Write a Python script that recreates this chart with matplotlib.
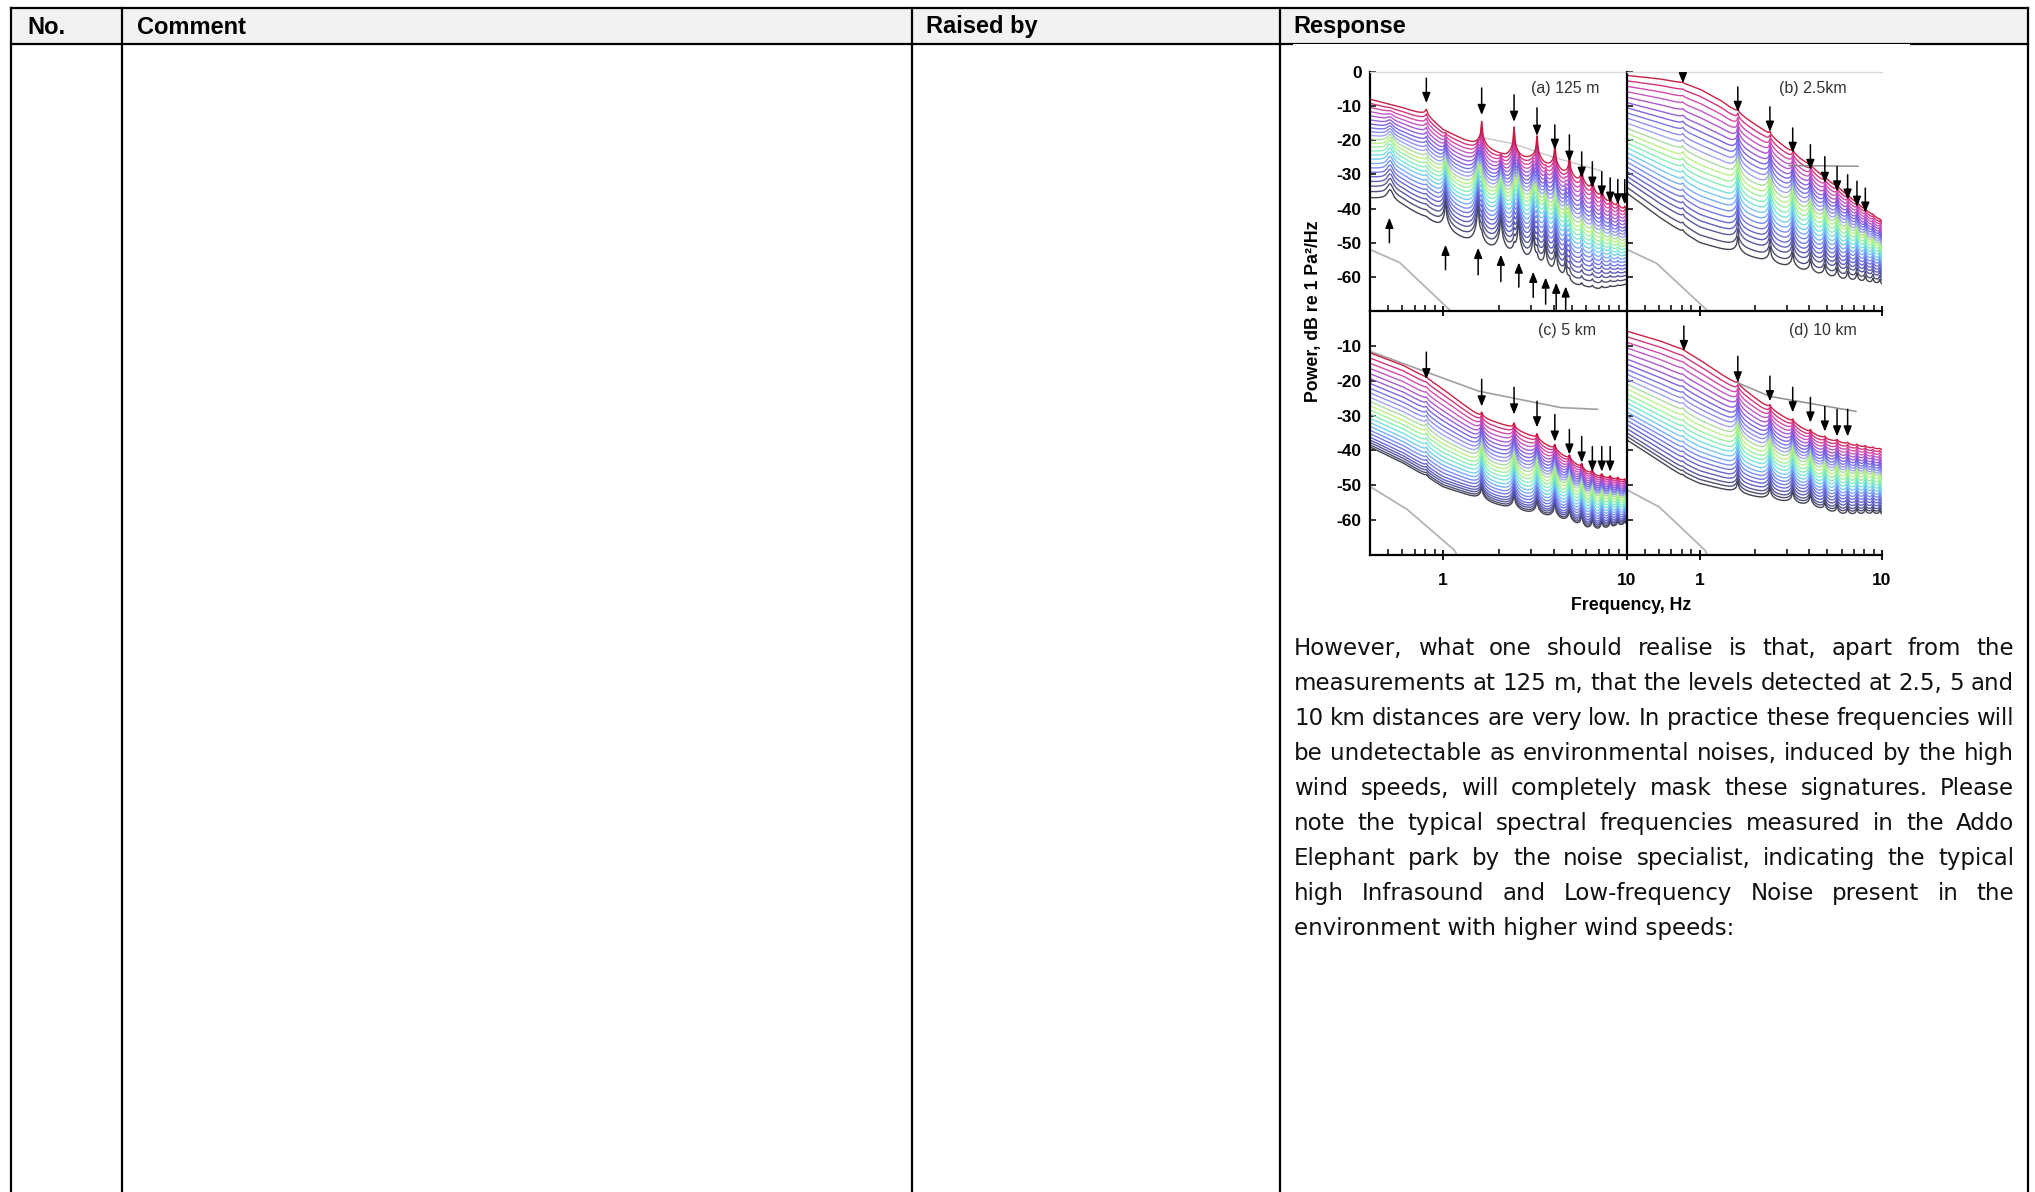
import numpy as np
import matplotlib
matplotlib.use("Agg")
import matplotlib.pyplot as plt
from matplotlib.lines import Line2D
from matplotlib.patches import Rectangle
from matplotlib.ticker import FixedLocator, NullFormatter
from matplotlib import font_manager

plt.rcParams['axes.unicode_minus'] = False

# ---------------- data ----------------
header_labels = ["No.", "Comment", "Raised by", "Response"]

body_lines = [
    "However, what one should realise is that, apart from the",
    "measurements at 125 m, that the levels detected at 2.5, 5 and",
    "10 km distances are very low. In practice these frequencies will",
    "be undetectable as environmental noises, induced by the high",
    "wind speeds, will completely mask these signatures. Please",
    "note the typical spectral frequencies measured in the Addo",
    "Elephant park by the noise specialist, indicating the typical",
    "high Infrasound and Low-frequency Noise present in the",
    "environment with higher wind speeds:",
]

panel_titles = ["(a) 125 m", "(b) 2.5km", "(c) 5 km", "(d) 10 km"]
y_ticks_top = [0, -10, -20, -30, -40, -50, -60]
y_ticks_bottom = [-10, -20, -30, -40, -50, -60]
y_ticks_all = [0, -10, -20, -30, -40, -50, -60, -70]
x_major = [1, 10]
x_major_labels = ["1", "10"]
x_minor = [0.4, 0.5, 0.6, 0.7, 0.8, 0.9, 2, 3, 4, 5, 6, 7, 8, 9]

# envelope anchor frequencies (Hz)
env_f = [0.4, 0.6, 0.8, 1.0, 1.3, 1.6, 2.2, 3.0, 4.0, 5.0, 6.0, 7.0, 8.0, 10.0]

top_a = [-8, -10.5, -12.8, -17, -20, -22, -25, -26, -29, -32, -35, -38, -40, -41.5]
bot_a = [-38, -40.5, -43.3, -46.5, -49.5, -51.5, -54, -57, -61, -63, -63.5, -64, -63.5, -62.5]
top_b = [-1, -2, -3.2, -5, -8.3, -11.8, -16.8, -22.5, -27.5, -31.8, -35, -38, -40.5, -44]
bot_b = [-35.5, -42.5, -47, -50, -51.8, -53, -55.3, -57.3, -59.2, -60.6, -61.8, -62.3, -62.7, -63]
top_c = [-12, -15.5, -19, -22.5, -27, -30.5, -33, -36, -40, -43.5, -46.5, -48, -48.5, -49]
bot_c = [-39, -43.5, -47.5, -50.5, -52.5, -54.2, -56.5, -58.3, -59.8, -61.5, -63.5, -64, -63.5, -62]
top_d = [-5.8, -8.5, -11, -14, -18, -21, -26.5, -31, -35, -37, -38, -38.8, -39.3, -40]
bot_d = [-37, -43, -47.3, -49.5, -51, -52.2, -53.8, -55, -56.2, -58, -59, -59.2, -59.2, -59]

# level of each curve at 0.4 Hz (top to bottom)
start_a = [-8, -9.3, -10.6, -11.9, -13.2, -14.5, -15.8, -17, -18.2, -19.4, -20.6, -21.8,
           -23, -24.2, -25.4, -26.6, -27.9, -29.2, -30.5, -31.8, -33.2, -34.6, -36.2, -38]
start_b = [-1, -2.6, -4.2, -5.8, -7.4, -9, -10.5, -12, -13.5, -15, -16.5, -18,
           -19.4, -20.8, -22.2, -23.6, -25, -26.4, -27.8, -29.2, -30.6, -32, -33.8, -35.5]
start_c = [-12, -13.5, -15, -16.5, -18, -19.4, -20.8, -22.2, -23.5, -24.8, -26, -27.2,
           -28.4, -29.6, -30.8, -32, -33.1, -34.2, -35.2, -36.2, -37, -37.7, -38.4, -39]
start_d = [-5.8, -7.4, -9, -10.6, -12.2, -13.8, -15.3, -16.8, -18.2, -19.6, -21, -22.4,
           -23.8, -25.1, -26.4, -27.7, -29, -30.2, -31.4, -32.6, -33.8, -35, -36, -37]

curve_colors = ['#c8143c', '#d02a78', '#d040a8', '#c050c0', '#a850cc', '#9058d8',
                '#7a5ae0', '#7070e8', '#8a88ee', '#9aa0f0', '#a8d8a0', '#b8f080',
                '#98f098', '#80ecb8', '#70e0d8', '#70c8f0', '#70a8f8', '#7088f0',
                '#6a70e0', '#6060d0', '#5858b8', '#505098', '#484870', '#3a3a48']

# tonal peaks (harmonics), their heights in dB and widths in decades
harm_A = [0.81, 1.62, 2.43, 3.24, 4.05, 4.86, 5.67, 6.48, 7.29, 8.10, 8.91, 9.72]
harm_B = [0.515, 1.03, 1.545, 2.06, 2.575, 3.09, 3.605, 4.12, 4.635]
width_A = [0.006, 0.004, 0.004, 0.004, 0.004, 0.004, 0.004, 0.004, 0.004, 0.004, 0.004, 0.004]
width_B = [0.02, 0.004, 0.004, 0.004, 0.004, 0.004, 0.004, 0.004, 0.004]
ampA_a = [2, 7.5, 9, 7.7, 7, 6, 5.3, 4.5, 4, 3, 2, 1.5]
ampA_b = [1.5, 8, 8, 8, 7, 6, 6, 5, 5, 4, 3, 3]
ampA_c = [1.5, 8, 9, 9, 9, 8, 8, 7, 6, 5, 4, 3]
ampA_d = [1, 7, 7, 7, 7, 5, 5, 4, 4, 4, 3, 3]
ampB_a = [5, 9, 13, 12, 12, 9, 8, 7, 5]
# peak strength over curve rank (top, middle, bottom)
profA_a = [1.0, 0.6, 0.2]
profB_a = [0.0, 0.9, 1.0]
profA_b = [0.15, 1.0, 0.6]
profA_c = [0.2, 1.0, 0.5]
profA_d = [0.15, 1.0, 0.5]

# grey reference lines
grey_a_low_f, grey_a_low = [0.4, 0.58, 1.1, 1.2], [-52, -55.8, -70, -73]
grey_a_up_f, grey_a_up = [1.56, 2.4, 4.0, 7.3], [-19, -21, -25, -29]
grey_b_low_f, grey_b_low = [0.4, 0.58, 1.11, 1.2], [-52, -56, -70, -73]
grey_b_up_f, grey_b_up = [3.1, 7.4], [-27.4, -27.6]
grey_c_low_f, grey_c_low = [0.41, 0.64, 1.15, 1.25], [-50.7, -57, -68.6, -72]
grey_c_up_f, grey_c_up = [0.41, 1.56, 4.35, 6.9], [-11.8, -23, -27.7, -28.2]
grey_d_low_f, grey_d_low = [0.4, 0.6, 1.07, 1.15], [-51.3, -56.2, -68.6, -72]
grey_d_up_f, grey_d_up = [1.6, 2.43, 7.2], [-20.5, -24.5, -28.8]

# arrows: frequency, start level, end (tip) level
arr_a_f = [0.81, 1.62, 2.43, 3.24, 4.05, 4.86, 5.67, 6.48, 7.29, 8.10, 8.91, 9.72]
arr_a_s = [-1.8, -4.7, -6.7, -10.5, -15.5, -18.4, -23.4, -26.3, -29.2, -31, -31.5, -31.5]
arr_a_e = [-9.1, -12.6, -14.6, -18.7, -22.8, -26.3, -31, -33.9, -36.5, -38.3, -38.8, -38.8]
arru_a_f = [0.51, 1.03, 1.55, 2.06, 2.58, 3.09, 3.61, 4.12, 4.64]
arru_a_s = [-50, -57.9, -59.4, -61.4, -63, -66, -68, -69.6, -69.6]
arru_a_e = [-42.7, -50.6, -51.5, -53.5, -55.8, -58.5, -60.2, -61.7, -62.8]
arr_b_f = [0.81, 1.62, 2.43, 3.24, 4.05, 4.86, 5.67, 6.48, 7.29, 8.10]
arr_b_s = [-1.5, -4.4, -10.2, -16.4, -21.3, -24.8, -27.7, -30.1, -32, -34]
arr_b_e = [-3.3, -11.7, -17.5, -23.7, -28.7, -32.5, -35, -37.4, -39.5, -41.2]
arr_c_f = [0.81, 1.62, 2.43, 3.24, 4.05, 4.86, 5.67, 6.48, 7.29, 8.10]
arr_c_s = [-11.8, -19.6, -21.9, -25.9, -29.7, -34, -36, -38.9, -38.9, -38.9]
arr_c_e = [-19.6, -27.4, -29.7, -33.4, -37.5, -41.2, -43.5, -46.1, -46.1, -46.1]
arr_d_f = [0.82, 1.62, 2.43, 3.24, 4.05, 4.86, 5.67, 6.48]
arr_d_s = [-4.3, -13, -18.7, -21.9, -24.8, -27.4, -28.2, -28.2]
arr_d_e = [-11.5, -20.5, -25.9, -29.1, -32, -34.6, -36, -36]

# ---------------- figure ----------------
W, H = 2035, 1192
fig = plt.figure(figsize=(W / 100, H / 100), dpi=100)
fig.patch.set_facecolor('white')


def fx(x):
    return x / W


def fy(y):
    return 1 - y / H


def pick(*names):
    avail = {f.name for f in font_manager.fontManager.ttflist}
    for n in names:
        if n in avail:
            return n
    return 'DejaVu Sans'


head_font = pick('Liberation Sans', 'Arimo', 'DejaVu Sans')
head_size = 17
chart_font = pick('Liberation Sans', 'Arimo', 'DejaVu Sans')
body_font = 'DejaVu Sans'

# table
fig.add_artist(Rectangle((fx(11), fy(43.5)), fx(2028) - fx(11), fy(8) - fy(43.5),
                         transform=fig.transFigure, facecolor='#f2f2f2',
                         edgecolor='none', zorder=0.5))
LW = 1.6


def hline(y, x0, x1):
    fig.add_artist(Line2D([fx(x0), fx(x1)], [fy(y), fy(y)], transform=fig.transFigure,
                          color='black', lw=LW, solid_capstyle='projecting', zorder=2))


def vline(x, y0, y1):
    fig.add_artist(Line2D([fx(x), fx(x)], [fy(y0), fy(y1)], transform=fig.transFigure,
                          color='black', lw=LW, solid_capstyle='projecting', zorder=2))


hline(8, 11, 2028)
hline(43.5, 11, 2028)
for xv in [11, 122, 912, 1280, 2028]:
    vline(xv, 8, 1200)

header_x = [27, 137, 926, 1293]
for lab, xh in zip(header_labels, header_x):
    fig.text(fx(xh), fy(33.5), lab, ha='left', va='baseline', family=head_font,
             weight='bold', size=head_size, color='black', zorder=4)

# image area of embedded chart (covers part of the header rule)
fig.add_artist(Rectangle((fx(1293), fy(620)), fx(1910) - fx(1293), fy(43.5) - fy(620),
                         transform=fig.transFigure, facecolor='white',
                         edgecolor='none', zorder=2.5))


def add_ax(x0, y0, x1, y1):
    ax = fig.add_axes([fx(x0), fy(y1), fx(x1) - fx(x0), fy(y0) - fy(y1)])
    ax.set_zorder(3)
    ax.patch.set_alpha(0)
    return ax


ax_a = add_ax(1370, 72, 1627, 311)
ax_b = add_ax(1627, 72, 1882, 311)
ax_c = add_ax(1370, 311, 1627, 555)
ax_d = add_ax(1627, 311, 1882, 555)

fgrid = np.logspace(np.log10(0.4), 1.0, 3000)
lg = np.log10(fgrid)
lenv = np.log10(env_f)


def peaks(f0s, amps, widths):
    out = np.zeros_like(lg)
    for f0, a, w in zip(f0s, amps, widths):
        d = lg - np.log10(f0)
        out += a * (0.6 / (1 + (d / w) ** 2) + 0.4 / (1 + (d / (6 * w)) ** 2))
    return out


def draw_panel(ax, starts, top, bot, ampA, profA, ampB=None, profB=None):
    topc = np.interp(lg, lenv, top)
    botc = np.interp(lg, lenv, bot)
    pA = peaks(harm_A, ampA, width_A)
    pB = peaks(harm_B, ampB, width_B) if ampB is not None else 0
    n = len(starts)
    for i in range(n - 1, -1, -1):
        t = (starts[0] - starts[i]) / (starts[0] - starts[-1])
        y = topc * (1 - t) + botc * t
        y = y + np.interp(t, [0, 0.5, 1], profA) * pA
        if ampB is not None:
            y = y + np.interp(t, [0, 0.5, 1], profB) * pB
        ax.plot(fgrid, y, color=curve_colors[i], lw=1.0, alpha=0.95, zorder=2)


draw_panel(ax_a, start_a, top_a, bot_a, ampA_a, profA_a, ampB_a, profB_a)
draw_panel(ax_b, start_b, top_b, bot_b, ampA_b, profA_b)
draw_panel(ax_c, start_c, top_c, bot_c, ampA_c, profA_c)
draw_panel(ax_d, start_d, top_d, bot_d, ampA_d, profA_d)

grey = '#b4b4b4'
ax_a.plot(grey_a_low_f, grey_a_low, color=grey, lw=1.3, zorder=1)
ax_a.plot(grey_a_up_f, grey_a_up, color='#c8c8c8', lw=1.0, zorder=1.5)
ax_b.plot(grey_b_low_f, grey_b_low, color=grey, lw=1.3, zorder=1)
ax_b.plot(grey_b_up_f, grey_b_up, color='#888888', lw=1.0, zorder=3)
ax_c.plot(grey_c_low_f, grey_c_low, color=grey, lw=1.3, zorder=1)
ax_c.plot(grey_c_up_f, grey_c_up, color='#a0a0a0', lw=1.2, zorder=1)
ax_d.plot(grey_d_low_f, grey_d_low, color=grey, lw=1.3, zorder=1)
ax_d.plot(grey_d_up_f, grey_d_up, color='#909090', lw=1.1, zorder=3)


def arrows(ax, fs, ss, es):
    for f, s, e in zip(fs, ss, es):
        ax.annotate('', xy=(f, e), xytext=(f, s),
                    arrowprops=dict(arrowstyle='-|>,head_length=0.55,head_width=0.22',
                                    mutation_scale=11, lw=1.1, color='black',
                                    shrinkA=0, shrinkB=0),
                    annotation_clip=False, zorder=5)


arrows(ax_a, arr_a_f, arr_a_s, arr_a_e)
arrows(ax_a, arru_a_f, arru_a_s, arru_a_e)
arrows(ax_b, arr_b_f, arr_b_s, arr_b_e)
arrows(ax_c, arr_c_f, arr_c_s, arr_c_e)
arrows(ax_d, arr_d_f, arr_d_s, arr_d_e)

tick_fp = dict(family=chart_font, weight='bold', size=12.5)
for ax, is_top, is_left in [(ax_a, True, True), (ax_b, True, False),
                            (ax_c, False, True), (ax_d, False, False)]:
    ax.set_xscale('log')
    ax.set_xlim(0.4, 10)
    ax.set_ylim(-70, 0)
    ax.xaxis.set_major_locator(FixedLocator(x_major))
    ax.xaxis.set_minor_locator(FixedLocator(x_minor))
    ax.xaxis.set_minor_formatter(NullFormatter())
    ax.tick_params(axis='x', which='major', direction='inout', length=7, width=1.3,
                   colors='black', pad=9.5)
    ax.tick_params(axis='x', which='minor', direction='in', length=4, width=1.1)
    if is_top:
        ax.set_xticklabels([])
    else:
        ax.set_xticklabels(x_major_labels, **tick_fp)
    if is_left:
        yt = y_ticks_top if is_top else y_ticks_bottom
        ax.set_yticks(yt)
        ax.set_yticklabels([str(v) for v in yt], **tick_fp)
    else:
        ax.set_yticks(y_ticks_all)
        ax.set_yticklabels([])
    ax.tick_params(axis='y', direction='in', length=4, width=1.1, pad=6)
    for s in ax.spines.values():
        s.set_linewidth(1.6)
        s.set_color('black')
    ax.spines['right'].set_visible(False)
    if is_top:
        ax.spines['top'].set_color('#d8d8d8')
        ax.spines['top'].set_linewidth(1.0)
    else:
        ax.spines['top'].set_visible(False)

title_pos = [(1565, 88), (1813, 88), (1567, 330), (1823, 330)]
for tt, (tx, ty) in zip(panel_titles, title_pos):
    fig.text(fx(tx), fy(ty), tt, ha='center', va='center', family=chart_font,
             size=11.5, color='#333333', zorder=6)

fig.text(fx(1313), fy(311), 'Power, dB re 1 Pa²/Hz', rotation=90, ha='center',
         va='center', family=chart_font, weight='bold', size=12.8, zorder=6)
fig.text(fx(1631), fy(606), 'Frequency, Hz', ha='center', va='center',
         family=chart_font, weight='bold', size=12.8, zorder=6)

# justified body text
renderer = fig.canvas.get_renderer()
body_fp = dict(family=body_font, size=16.5, color='#111111')


def text_w(s):
    t = fig.text(0, 0, s, **body_fp)
    w = t.get_window_extent(renderer).width
    t.remove()
    return w


x_left, x_right = 1294, 2014
base0, step = 655, 35
for k, line in enumerate(body_lines):
    yb = base0 + step * k
    if k == len(body_lines) - 1:
        fig.text(fx(x_left), fy(yb), line, ha='left', va='baseline', zorder=6, **body_fp)
        continue
    words = line.split(' ')
    ws = [text_w(w) for w in words]
    gap = (x_right - x_left - sum(ws)) / (len(words) - 1)
    xc = x_left
    for w, wd in zip(words, ws):
        fig.text(fx(xc), fy(yb), w, ha='left', va='baseline', zorder=6, **body_fp)
        xc += wd + gap

fig.savefig('out.png', dpi=100, facecolor='white')
